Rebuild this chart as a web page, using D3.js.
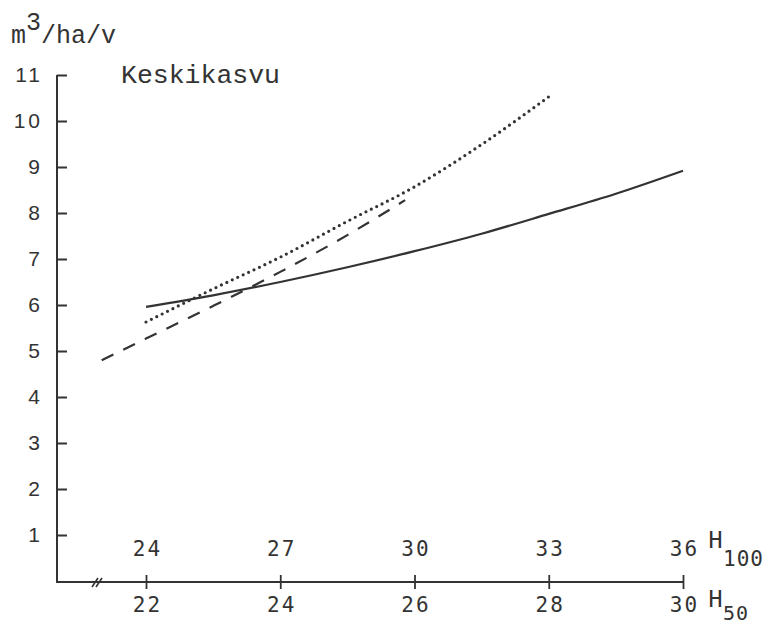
<!DOCTYPE html>
<html>
<head>
<meta charset="utf-8">
<script src="https://cdn.jsdelivr.net/npm/d3@7"></script>
<style>
  html, body { margin: 0; padding: 0; background: #fff; }
  svg { display: block; }
</style>
</head>
<body>
<svg id="chart" width="779" height="626"></svg>
<script>
// Mean increment (m3/ha/year) against dominant height H50 / H100
const yTicks = [1, 2, 3, 4, 5, 6, 7, 8, 9, 10, 11];
const h50Ticks = [22, 24, 26, 28, 30];
const h100Ticks = [24, 27, 30, 33, 36];

const solidH50 = [22, 23, 24, 25, 26, 27, 28, 29, 30];
const solidValues = [5.96, 6.21, 6.50, 6.82, 7.17, 7.55, 7.98, 8.42, 8.92];

const dottedH50 = [22, 23, 24, 25, 26, 27, 28.04];
const dottedValues = [5.63, 6.35, 7.04, 7.82, 8.57, 9.49, 10.57];

const dashedH50 = [21.34, 22, 23, 24, 25, 25.86];
const dashedValues = [4.80, 5.27, 5.98, 6.72, 7.52, 8.28];

const ink = "#333";
const svg = d3.select("#chart");

const x50 = d3.scaleLinear().domain([22, 30]).range([146, 683]);
const x100 = d3.scaleLinear().domain([24, 36]).range([146, 683]);
const y = d3.scaleLinear().domain([0, 11]).range([581, 75]);

const axisX0 = 57;
const axisY0 = 582;

// Axis lines
svg.append("line")
  .attr("x1", axisX0).attr("x2", axisX0)
  .attr("y1", y(11)).attr("y2", axisY0 + 1)
  .attr("stroke", ink).attr("stroke-width", 2);
svg.append("line")
  .attr("x1", axisX0 - 1).attr("x2", x50(30))
  .attr("y1", axisY0).attr("y2", axisY0)
  .attr("stroke", ink).attr("stroke-width", 2);

// Axis break marks
[0, 4].forEach(off => {
  svg.append("line")
    .attr("x1", 92 + off).attr("y1", axisY0 + 5)
    .attr("x2", 98 + off).attr("y2", axisY0 - 4)
    .attr("stroke", ink).attr("stroke-width", 1.6);
});

// Y axis, ticks pointing inward
const yAxis = svg.append("g")
  .attr("transform", `translate(${axisX0},0)`)
  .call(d3.axisLeft(y).tickValues(yTicks).tickSize(-10).tickPadding(17).tickFormat(d3.format("d")));
yAxis.select(".domain").remove();
yAxis.selectAll(".tick line").attr("stroke", ink).attr("stroke-width", 2);
yAxis.selectAll(".tick text")
  .attr("fill", ink)
  .attr("font-family", "'Liberation Sans', Arial, sans-serif")
  .attr("font-size", 21)
  .attr("letter-spacing", 3)
  .attr("dx", 3);

// H50 axis (below) and H100 axis (above), sharing tick marks
const xBottom = svg.append("g")
  .attr("transform", `translate(0,${axisY0})`)
  .call(d3.axisBottom(x50).tickValues(h50Ticks).tickSize(7).tickPadding(8).tickFormat(d3.format("d")));
xBottom.select(".domain").remove();

const xTop = svg.append("g")
  .attr("transform", `translate(0,${axisY0})`)
  .call(d3.axisTop(x100).tickValues(h100Ticks).tickSize(7).tickPadding(19).tickFormat(d3.format("d")));
xTop.select(".domain").remove();

[xBottom, xTop].forEach(g => {
  g.selectAll(".tick line").attr("stroke", ink).attr("stroke-width", 1.8);
  g.selectAll(".tick text")
    .attr("fill", ink)
    .attr("font-family", "'DejaVu Sans Mono', monospace")
    .attr("font-size", 21)
    .attr("letter-spacing", 2)
    .attr("dx", 1);
});

// Curves
const line = d3.line().x(d => x50(d[0])).y(d => y(d[1])).curve(d3.curveMonotoneX);

svg.append("path")
  .datum(solidH50.map((h, i) => [h, solidValues[i]]))
  .attr("d", line)
  .attr("fill", "none").attr("stroke", ink).attr("stroke-width", 2.2);

svg.append("path")
  .datum(dottedH50.map((h, i) => [h, dottedValues[i]]))
  .attr("d", line)
  .attr("fill", "none").attr("stroke", ink).attr("stroke-width", 3.2)
  .attr("stroke-linecap", "round").attr("stroke-dasharray", "0 6");

svg.append("path")
  .datum(dashedH50.map((h, i) => [h, dashedValues[i]]))
  .attr("d", line)
  .attr("fill", "none").attr("stroke", ink).attr("stroke-width", 2.2)
  .attr("stroke-dasharray", "13 11");

// Text labels
const mono = "'Liberation Mono', 'Courier New', monospace";

const unit = svg.append("text")
  .attr("x", 11).attr("y", 43)
  .attr("font-family", mono).attr("font-size", 25).attr("fill", ink);
unit.append("tspan").text("m");
unit.append("tspan").attr("dy", -13).text("3");
unit.append("tspan").attr("dy", 13).text("/ha/v");

svg.append("text")
  .attr("x", 121).attr("y", 83)
  .attr("font-family", mono).attr("font-size", 26.5).attr("fill", ink)
  .text("Keskikasvu");

const h100Label = svg.append("text")
  .attr("x", 708).attr("y", 548)
  .attr("font-family", mono).attr("font-size", 25).attr("fill", ink);
h100Label.append("tspan").text("H");
h100Label.append("tspan").attr("dy", 18)
  .attr("font-family", "'DejaVu Sans Mono', monospace").attr("font-size", 21)
  .attr("letter-spacing", 1).text("100");

const h50Label = svg.append("text")
  .attr("x", 708).attr("y", 607)
  .attr("font-family", mono).attr("font-size", 25).attr("fill", ink);
h50Label.append("tspan").text("H");
h50Label.append("tspan").attr("dy", 13)
  .attr("font-family", "'DejaVu Sans Mono', monospace").attr("font-size", 20)
  .attr("letter-spacing", 1).text("50");
</script>
</body>
</html>
